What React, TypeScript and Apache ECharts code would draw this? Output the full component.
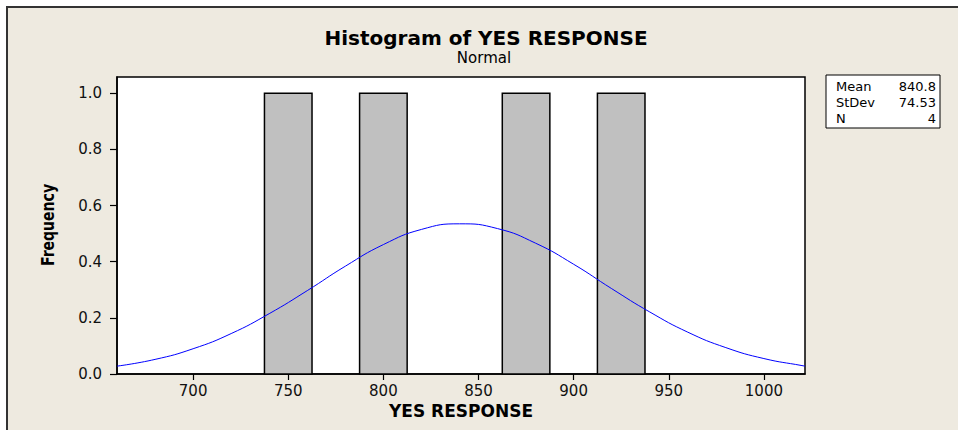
import React, { useEffect, useRef } from 'react';
import * as echarts from 'echarts';

// Histogram bins (bin centre, count) and bin width in data units
const binCenters = [750, 775, 800, 825, 850, 875, 900, 925];
const binCounts = [1, 0, 1, 0, 0, 1, 0, 1];
const binWidth = 25;

// Fitted normal curve
const curveX = [660, 680, 700, 720, 740, 760, 780, 800, 820, 840, 860, 880, 900, 920, 940, 960, 980, 1000, 1020, 1021.6];
const curveY = [0.028, 0.052, 0.09, 0.144, 0.215, 0.297, 0.384, 0.461, 0.515, 0.535, 0.518, 0.466, 0.391, 0.304, 0.221, 0.149, 0.094, 0.055, 0.03, 0.028];

const xTicks = [700, 750, 800, 850, 900, 950, 1000];
const yTicks = [0, 0.2, 0.4, 0.6, 0.8, 1.0];

const statLabels = ['Mean', 'StDev', 'N'];
const statValues = ['840.8', '74.53', '4'];

const titleText = 'Histogram of YES RESPONSE';
const subtitleText = 'Normal';

const FONT = '"DejaVu Sans", Verdana, sans-serif';

export default function App() {
  const ref = useRef<HTMLDivElement>(null);

  useEffect(() => {
    document.body.style.margin = '0';
    if (!ref.current) return;
    const chart = echarts.init(ref.current, null, { renderer: 'svg' });

    const graphics: any[] = [
      {
        type: 'text',
        x: 486,
        y: 38,
        style: {
          text: titleText,
          font: `bold 20px ${FONT}`,
          fill: '#000',
          textAlign: 'center',
          textVerticalAlign: 'middle',
        },
      },
      {
        type: 'text',
        x: 484,
        y: 58,
        style: {
          text: subtitleText,
          font: `15px ${FONT}`,
          fill: '#000',
          textAlign: 'center',
          textVerticalAlign: 'middle',
        },
      },
      {
        type: 'rect',
        shape: { x: 826, y: 75, width: 114, height: 53 },
        style: { fill: '#fff', stroke: '#000', lineWidth: 1 },
      },
      {
        type: 'text',
        x: 48,
        y: 225,
        rotation: Math.PI / 2,
        scaleX: 0.78,
        style: {
          text: 'Frequency',
          font: `bold 18px ${FONT}`,
          fill: '#000',
          textAlign: 'center',
          textVerticalAlign: 'middle',
        },
      },
    ];
    statLabels.forEach((l, i) => {
      graphics.push({
        type: 'text',
        x: 836,
        y: 86 + i * 16,
        style: { text: l, font: `13px ${FONT}`, fill: '#000', textAlign: 'left', textVerticalAlign: 'middle' },
      });
      graphics.push({
        type: 'text',
        x: 936,
        y: 86 + i * 16,
        style: { text: statValues[i], font: `13px ${FONT}`, fill: '#000', textAlign: 'right', textVerticalAlign: 'middle' },
      });
    });

    chart.setOption({
      animation: false,
      backgroundColor: 'transparent',
      grid: {
        left: 117,
        top: 77,
        width: 688,
        height: 297,
        show: true,
        backgroundColor: '#fff',
        borderColor: '#000',
        borderWidth: 1.5,
      },
      xAxis: {
        type: 'value',
        min: 660,
        max: 1021.6,
        splitNumber: 7,
        name: 'YES RESPONSE',
        nameLocation: 'middle',
        nameGap: 26,
        nameTextStyle: { fontFamily: FONT, fontWeight: 'bold', fontSize: 17, color: '#000', verticalAlign: 'top' },
        axisLine: { show: true, onZero: false, lineStyle: { color: '#000', width: 1.5 } },
        axisTick: { show: true, length: 6, customValues: xTicks, lineStyle: { color: '#000', width: 1.2 } },
        axisLabel: {
          customValues: xTicks,
          margin: 9,
          fontFamily: FONT,
          fontSize: 15,
          color: '#111',
          formatter: (v: number) => String(v),
        },
        splitLine: { show: false },
      },
      yAxis: {
        type: 'value',
        min: 0,
        max: 1.058,
        axisLine: { show: true, onZero: false, lineStyle: { color: '#000', width: 1.5 } },
        axisTick: { show: true, length: 7, customValues: yTicks, lineStyle: { color: '#000', width: 1.2 } },
        axisLabel: {
          customValues: yTicks,
          margin: 15,
          fontFamily: FONT,
          fontSize: 15,
          color: '#111',
          formatter: (v: number) => v.toFixed(1),
        },
        splitLine: { show: false },
      },
      series: [
        {
          type: 'custom',
          z: 2,
          encode: { x: 0, y: 1 },
          data: binCenters.map((c, i) => [c, binCounts[i]]),
          renderItem: (params: any, api: any) => {
            const c = api.value(0);
            const n = api.value(1);
            if (!n) return { type: 'group', children: [] };
            const p0 = api.coord([c - binWidth / 2, n]);
            const p1 = api.coord([c + binWidth / 2, 0]);
            return {
              type: 'rect',
              shape: { x: p0[0], y: p0[1], width: p1[0] - p0[0], height: p1[1] - p0[1] },
              style: { fill: '#c0c0c0', stroke: '#000', lineWidth: 1.5 },
            };
          },
        },
        {
          type: 'line',
          z: 3,
          data: curveX.map((x, i) => [x, curveY[i]]),
          smooth: true,
          showSymbol: false,
          clip: true,
          lineStyle: { color: '#0000ff', width: 1 },
        },
      ],
      graphic: graphics,
    });

    return () => chart.dispose();
  }, []);

  return (
    <div style={{ position: 'relative', width: 958, height: 430, background: '#fff', overflow: 'hidden' }}>
      <div
        style={{
          position: 'absolute',
          left: 6,
          top: 6,
          width: 980,
          height: 450,
          background: '#eeeae0',
          borderTop: '2px solid #333',
          borderLeft: '2px solid #333',
        }}
      />
      <div ref={ref} style={{ position: 'absolute', left: 0, top: 0, width: 958, height: 430 }} />
    </div>
  );
}
